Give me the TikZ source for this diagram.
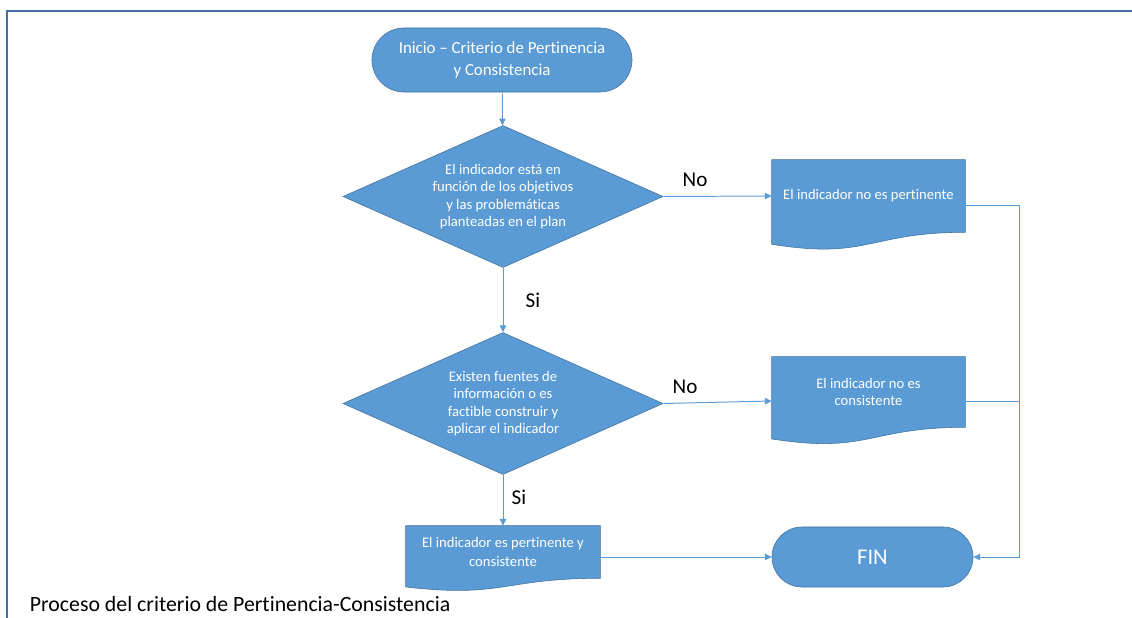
\documentclass[tikz,border=0pt]{standalone}
\usepackage{fontspec}
\setmainfont{Carlito}[Ligatures=NoCommon]
\usepackage{tikz}
\usetikzlibrary{shapes.geometric}
\usetikzlibrary{calc}
\usetikzlibrary{arrows.meta}
\usetikzlibrary{backgrounds}
\usepackage{xcolor}
\definecolor{officeblue}{HTML}{5B9BD5}
\definecolor{officeline}{HTML}{41719C}

\begin{document}
\begin{tikzpicture}[x=0.025cm, y=-0.025cm]
        % ================= 样式定义 =================
        \tikzset{
            % 起止框:圆角矩形
            term/.style={rectangle, rounded corners=#1, draw=officeline, fill=officeblue, text=white, align=center, inner sep=0pt},
            % 判断框:菱形
            decision/.style={diamond, aspect=2.24, draw=officeline, fill=officeblue, text=white, align=center, inner sep=0pt, minimum width=8cm, minimum height=3.55cm, font=\fontsize{10.4}{12.5}\selectfont},
            % 文档框 (只放文字, 波浪底在背景层画)
            docbox/.style={rectangle, text=white, align=center, inner sep=0pt, font=\fontsize{10.4}{12.5}\selectfont},
            docshape/.style={draw=officeline, fill=officeblue},
            % 连线
            flow/.style={draw=officeblue, line width=0.7pt, -{Triangle[length=1.7mm, width=1.6mm]}},
            flat/.style={draw=officeblue, line width=0.7pt},
            % 标签 No / Si
            lbl/.style={text=black, font=\fontsize{15}{18}\selectfont},
            frameline/.style={draw=officeline, line width=1pt}
        }

        \useasboundingbox (0,0) rectangle (1132,618);

        % ================= 外框 (上边和左边) =================
        \draw[frameline] (7,618) -- (7,11) -- (1132,11);

        % ================= 节点 =================
        \node[term=0.8cm, minimum width=6.5cm, minimum height=1.6cm, font=\fontsize{12}{15}\selectfont] (start) at (502,60)
            {Inicio -- Criterio de Pertinencia\\y Consistencia};

        \node[decision] (dec1) at (503,196.5)
            {El indicador está en\\función de los objetivos\\y las problemáticas\\planteadas en el plan};
        \node[decision] (dec2) at (503,403.5)
            {Existen fuentes de\\información o es\\factible construir y\\aplicar el indicador};

        \node[docbox, minimum width=4.825cm, minimum height=1.8cm] (nopert) at (868.5,196)
            {El indicador no es pertinente};
        \node[docbox, minimum width=4.825cm, minimum height=1.75cm] (nocons) at (868.5,392)
            {El indicador no es\\consistente};
        \node[docbox, minimum width=4.85cm, minimum height=1.3cm, font=\fontsize{10.4}{13.5}\selectfont] (ok) at (503,552)
            {El indicador es pertinente y\\consistente};

        \node[term=0.75cm, minimum width=5.025cm, minimum height=1.5cm, font=\fontsize{16}{19}\selectfont] (fin) at (872.5,557) {FIN};

        % 文档框的波浪底
        \begin{scope}[on background layer]
            \foreach \b in {nopert, nocons, ok} {
                \path[docshape] (\b.north west) -- (\b.north east) -- (\b.south east)
                    .. controls (\b.south) and ($(\b.south)!-0.381!(\b.north)$) .. ($(\b.south west)!-0.1646!(\b.north west)$)
                    -- cycle;
            }
        \end{scope}

        % 右侧汇合线的拐点
        \coordinate (r1) at (1019,205);
        \coordinate (r2) at (1019,401);

        % ================= 连线 =================
        \draw[flow] (start) -- (dec1);
        \draw[flow] (dec1) -- (dec2);
        \draw[flow] (dec2) -- (ok);
        \draw[flow] (dec1.east) -- (nopert.west);
        \draw[flow] (dec2.east) -- (nocons.west |- r2);
        \draw[flow] (ok.east |- fin) -- (fin.west);
        \draw[flow] (nopert.east |- r1) -- (r1) -- (r1 |- fin) -- (fin.east);
        \draw[flat] (nocons.east |- r2) -- (r2);

        % ================= 标签 =================
        \node[lbl] (no1) at (695,180) {No};
        \node[lbl] (no2) at (685,387) {No};
        \node[lbl] (si1) at (533,300) {Si};
        \node[lbl] (si2) at (519,497) {Si};

        \node[anchor=west, font=\fontsize{15.5}{18}\selectfont] (caption) at (25,604)
            {Proceso del criterio de Pertinencia-Consistencia};

    \end{tikzpicture}
\end{document}
